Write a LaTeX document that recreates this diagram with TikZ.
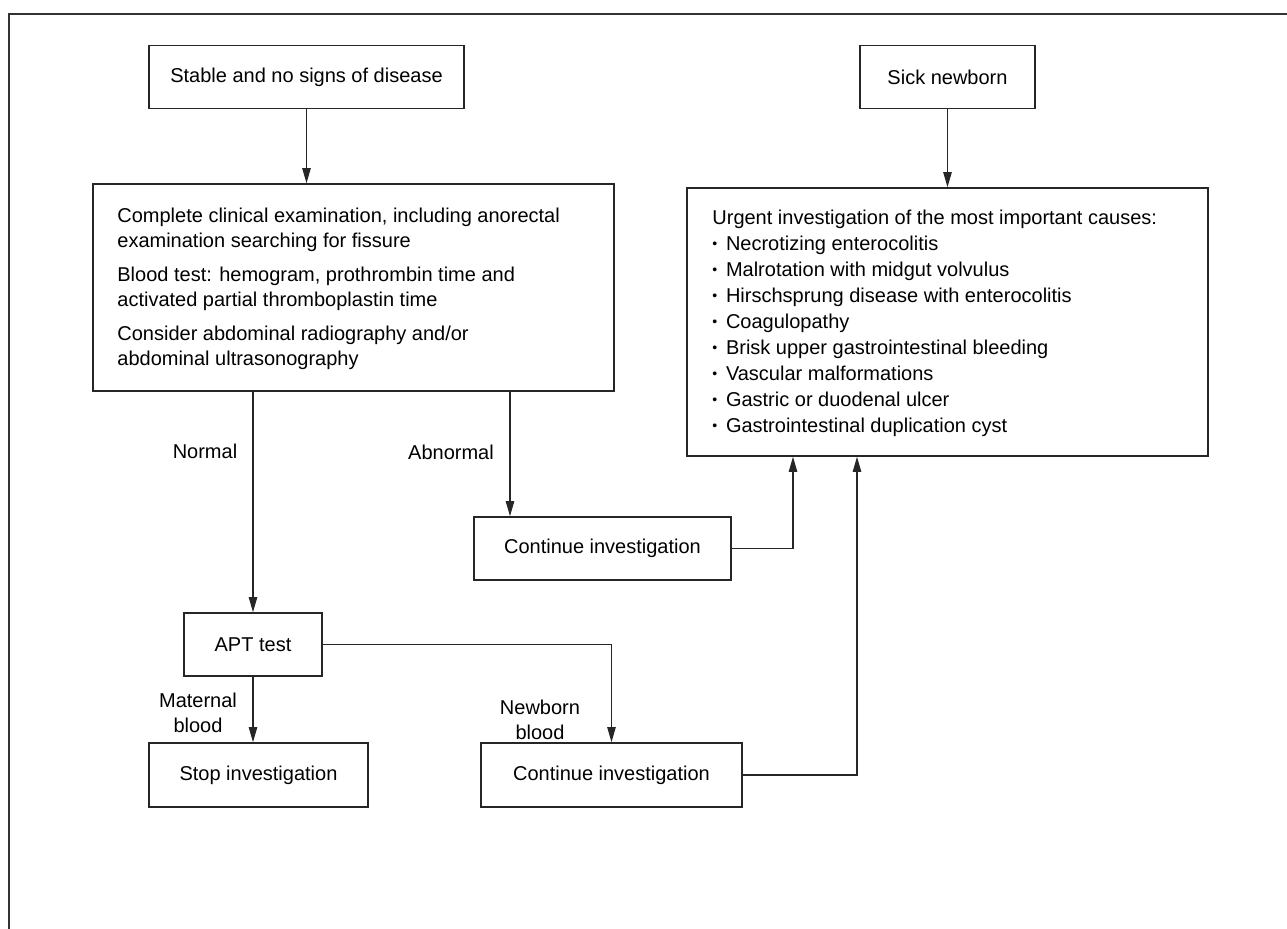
\documentclass[tikz,border=0pt]{standalone}
\usepackage{fontspec}
\setmainfont{Liberation Sans}
\usetikzlibrary{arrows.meta,calc}
\newcommand\bulitem{\makebox[6.8pt][l]{\raisebox{0.15ex}{\scalebox{0.7}{\textbullet}}}}
\begin{document}
\begin{tikzpicture}[x=0.5pt,y=-0.5pt,
  font=\fontsize{10}{12.5}\selectfont,
  box/.style={draw=black!85, line width=0.8pt, inner sep=0pt, minimum height=31.5pt},
  arr/.style={draw=black!85, -{Triangle[length=7.5pt,width=4.2pt]}, line width=0.55pt},
  lab/.style={align=center, inner sep=0pt},
  txt/.style={anchor=west, align=left, inner sep=0pt}]
\useasboundingbox (0,0) rectangle (1287,929);
\draw[line width=1pt, black!80] (9,929) -- (9,14) -- (1287,14);

\node[box, minimum width=157.5pt] (stable) at (306.5,77) {Stable and no signs of disease};
\node[box, minimum width=87.5pt] (sick) at (947.5,77) {Sick newborn};

\node[box, minimum width=260.5pt, minimum height=103.5pt] (clin) at (353.5,287.5) {};
\node[txt] (clintext) at (117,289) {Complete clinical examination, including anorectal\\
examination searching for fissure\\[4.5pt]
Blood test: hemogram, prothrombin time and\\
activated partial thromboplastin time\\[4.5pt]
Consider abdominal radiography and/or\\
abdominal ultrasonography};

\node[box, minimum width=260.5pt, minimum height=134pt] (urgent) at (947.5,322) {};
\node[txt, font=\fontsize{10}{13}\selectfont] (urgenttext) at (712,323) {Urgent investigation of the most important causes:\\
\bulitem Necrotizing enterocolitis\\
\bulitem Malrotation with midgut volvulus\\
\bulitem Hirschsprung disease with enterocolitis\\
\bulitem Coagulopathy\\
\bulitem Brisk upper gastrointestinal bleeding\\
\bulitem Vascular malformations\\
\bulitem Gastric or duodenal ulcer\\
\bulitem Gastrointestinal duplication cyst};

\node[box, minimum width=128.5pt] (cont1) at (602.5,548.5) {Continue investigation};
\node[box, minimum width=69pt] (apt) at (253,644.5) {APT test};
\node[box, minimum width=109.5pt, minimum height=32pt] (stop) at (258.5,775) {Stop investigation};
\node[box, minimum width=130.5pt, minimum height=32pt] (cont2) at (611.5,775) {Continue investigation};

\node[lab] (lnormal) at (205,451) {Normal};
\node[lab] (labnormal) at (451,452) {Abnormal};
\node[lab] (lmat) at (198,713) {Maternal\\blood};
\node[lab] (lnew) at (540,720) {Newborn\\blood};

\coordinate (abx) at (510,0);
\coordinate (u1x) at (793,0);
\coordinate (u2x) at (857,0);

\draw[arr] (stable.south) -- (stable.south |- clin.north);
\draw[arr] (sick.south) -- (sick.south |- urgent.north);
\draw[arr] (apt.north |- clin.south) -- (apt.north);
\draw[arr] (abx |- clin.south) -- (abx |- cont1.north);
\draw[arr] (cont1.east) -| (u1x |- urgent.south);
\draw[arr] (apt.east) -| (cont2.north);
\draw[arr] (apt.south) -- (apt.south |- stop.north);
\draw[arr] (cont2.east) -| (u2x |- urgent.south);
\end{tikzpicture}
\end{document}
